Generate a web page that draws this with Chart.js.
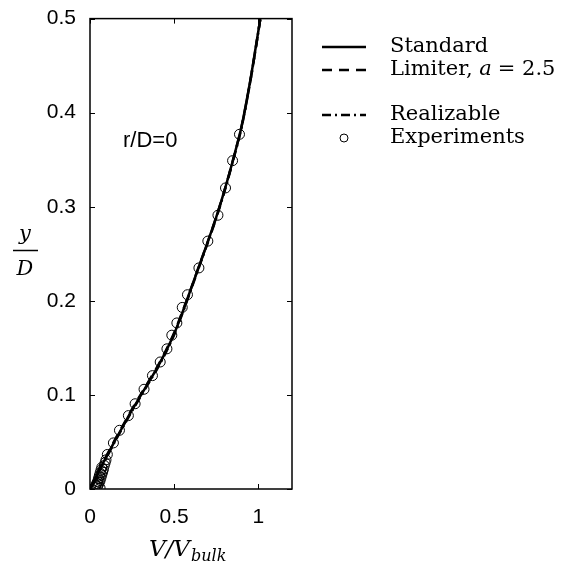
<!DOCTYPE html>
<html>
<head>
<meta charset="utf-8">
<script src="https://cdn.jsdelivr.net/npm/chart.js@4.4.1/dist/chart.umd.min.js"></script>
<style>
  html, body { margin: 0; padding: 0; background: #fff; }
  #wrap { width: 568px; height: 563px; }
</style>
</head>
<body>
<div id="wrap"><canvas id="myChart" width="568" height="563"></canvas></div>
<script>
// data (V/Vbulk, y/D)
const stdX = [0, 0.03, 0.06, 0.1, 0.15, 0.2, 0.25, 0.3, 0.35, 0.4, 0.45, 0.5, 0.55, 0.6, 0.65, 0.7, 0.75, 0.8, 0.85, 0.9, 0.95, 0.985, 1.012];
const stdY = [0, 0.01, 0.022, 0.035, 0.052, 0.068, 0.084, 0.099, 0.114, 0.129, 0.146, 0.165, 0.188, 0.213, 0.238, 0.263, 0.289, 0.318, 0.35, 0.385, 0.432, 0.47, 0.5];
const limY = [0, 0.011, 0.023, 0.036, 0.053, 0.069, 0.085, 0.1, 0.115, 0.13, 0.147, 0.166, 0.189, 0.213, 0.238, 0.263, 0.289, 0.318, 0.35, 0.385, 0.431, 0.469, 0.5];
const reaY = [0, 0.01, 0.021, 0.034, 0.051, 0.067, 0.083, 0.098, 0.113, 0.128, 0.145, 0.164, 0.187, 0.212, 0.237, 0.262, 0.288, 0.317, 0.349, 0.384, 0.431, 0.469, 0.5];

const expX = [0.06, 0.03, 0.045, 0.035, 0.05, 0.04, 0.055, 0.045, 0.06, 0.05, 0.065, 0.055, 0.07, 0.06, 0.075, 0.065, 0.08, 0.07, 0.085, 0.09, 0.095,
  0.103, 0.139, 0.175, 0.228, 0.268, 0.321, 0.371, 0.417, 0.457, 0.486, 0.516, 0.548, 0.579, 0.647, 0.70, 0.76, 0.805, 0.847, 0.888];
const expY = [0.001, 0.002, 0.003, 0.004, 0.005, 0.006, 0.007, 0.008, 0.009, 0.011, 0.012, 0.014, 0.015, 0.017, 0.018, 0.02, 0.021, 0.023, 0.025, 0.028, 0.031,
  0.0367, 0.049, 0.0624, 0.078, 0.0906, 0.106, 0.1205, 0.135, 0.149, 0.1635, 0.1765, 0.193, 0.2065, 0.235, 0.2635, 0.291, 0.320, 0.349, 0.377];

const xTicks = [0, 0.5, 1];
const yTicks = [0, 0.1, 0.2, 0.3, 0.4, 0.5];
const legendLabels = ['Standard', 'Limiter, ', 'Realizable', 'Experiments'];

const toPts = (xs, ys) => xs.map((x, i) => ({x: x, y: ys[i]}));

// box, inward ticks, legend and math labels
const decor = {
  id: 'decor',
  afterDraw(chart) {
    const ctx = chart.ctx;
    const a = chart.chartArea;
    const xs = chart.scales.x, ys = chart.scales.y;
    ctx.save();
    ctx.strokeStyle = '#000';
    ctx.lineWidth = 1.5;
    ctx.strokeRect(a.left, a.top, a.right - a.left, a.bottom - a.top);
    ctx.lineWidth = 1;
    ctx.beginPath();
    xTicks.forEach(v => {
      const p = Math.round(xs.getPixelForValue(v)) + 0.5;
      ctx.moveTo(p, a.bottom); ctx.lineTo(p, a.bottom - 5);
      ctx.moveTo(p, a.top); ctx.lineTo(p, a.top + 5);
    });
    yTicks.forEach(v => {
      const p = Math.round(ys.getPixelForValue(v)) + 0.5;
      ctx.moveTo(a.left, p); ctx.lineTo(a.left + 5, p);
      ctx.moveTo(a.right, p); ctx.lineTo(a.right - 5, p);
    });
    ctx.stroke();

    // annotation
    ctx.fillStyle = '#000';
    ctx.font = '22px "Liberation Sans", Arial, sans-serif';
    ctx.textBaseline = 'middle';
    ctx.textAlign = 'left';
    ctx.fillText('r/D=0', 123, 141);

    // legend
    const rows = [47, 70, 115, 138];
    const dashes = [[], [10, 7], [9, 4, 2, 4]];
    ctx.lineWidth = 2.5;
    for (let i = 0; i < 3; i++) {
      ctx.setLineDash(dashes[i]);
      ctx.beginPath();
      ctx.moveTo(322, rows[i]); ctx.lineTo(366, rows[i]);
      ctx.stroke();
    }
    ctx.setLineDash([]);
    ctx.lineWidth = 1;
    ctx.beginPath();
    ctx.arc(344, rows[3], 4, 0, Math.PI * 2);
    ctx.stroke();

    const serif = '"DejaVu Serif", "Liberation Serif", serif';
    ctx.font = '21px ' + serif;
    ctx.textBaseline = 'middle';
    legendLabels.forEach((t, i) => ctx.fillText(t, 390, rows[i]));
    let lx = 390 + ctx.measureText(legendLabels[1]).width;
    ctx.font = 'italic 21px ' + serif;
    ctx.fillText('a', lx, rows[1]);
    lx += ctx.measureText('a').width + 6;
    ctx.font = '21px ' + serif;
    ctx.fillText('= 2.5', lx, rows[1]);

    // x axis title V/V_bulk
    ctx.textBaseline = 'alphabetic';
    ctx.font = 'italic 23px ' + serif;
    ctx.fillText('V/V', 149, 556);
    const w = ctx.measureText('V/V').width;
    ctx.font = 'italic 16px ' + serif;
    ctx.fillText('bulk', 149 + w + 1, 561);

    // y axis title y/D as a fraction
    ctx.textAlign = 'center';
    ctx.font = 'italic 21px ' + serif;
    ctx.fillText('y', 25, 240);
    ctx.fillText('D', 25, 275);
    ctx.lineWidth = 1.5;
    ctx.beginPath();
    ctx.moveTo(13, 250.5); ctx.lineTo(38, 250.5);
    ctx.stroke();
    ctx.restore();
  }
};

const data = {
  datasets: [
    { label: 'Standard', data: toPts(stdX, stdY), borderColor: '#000', borderWidth: 2.5, pointRadius: 0, showLine: true, fill: false, tension: 0.3 },
    { label: 'Limiter', data: toPts(stdX, limY), borderColor: '#000', borderWidth: 2.5, borderDash: [10, 7], pointRadius: 0, showLine: true, fill: false, tension: 0.3 },
    { label: 'Realizable', data: toPts(stdX, reaY), borderColor: '#000', borderWidth: 2.5, borderDash: [9, 4, 2, 4], pointRadius: 0, showLine: true, fill: false, tension: 0.3 },
    { label: 'Experiments', data: toPts(expX, expY), borderColor: '#000', borderWidth: 1, backgroundColor: 'rgba(0,0,0,0)', pointRadius: 5, showLine: false }
  ]
};

const tickFont = { family: '"Liberation Sans", Arial, sans-serif', size: 21 };

const config = {
  type: 'scatter',
  data,
  plugins: [decor],
  options: {
    responsive: false,
    animation: false,
    layout: { padding: { top: 16, right: 276, left: 0, bottom: 0 } },
    plugins: { legend: { display: false }, tooltip: { enabled: false } },
    scales: {
      x: {
        type: 'linear', min: 0, max: 1.2,
        afterBuildTicks: s => { s.ticks = xTicks.map(v => ({value: v})); },
        afterFit: s => { s.height = 74; },
        grid: { display: false },
        border: { display: false },
        ticks: { color: '#000', padding: 8, maxRotation: 0, font: tickFont, callback: v => String(v) }
      },
      y: {
        type: 'linear', min: 0, max: 0.5,
        afterBuildTicks: s => { s.ticks = yTicks.map(v => ({value: v})); },
        afterFit: s => { s.width = 90; },
        grid: { display: false },
        border: { display: false },
        ticks: { color: '#000', padding: 6, font: tickFont, callback: v => String(v) }
      }
    }
  }
};

const myChart = new Chart(document.getElementById('myChart'), config);
</script>
</body>
</html>
